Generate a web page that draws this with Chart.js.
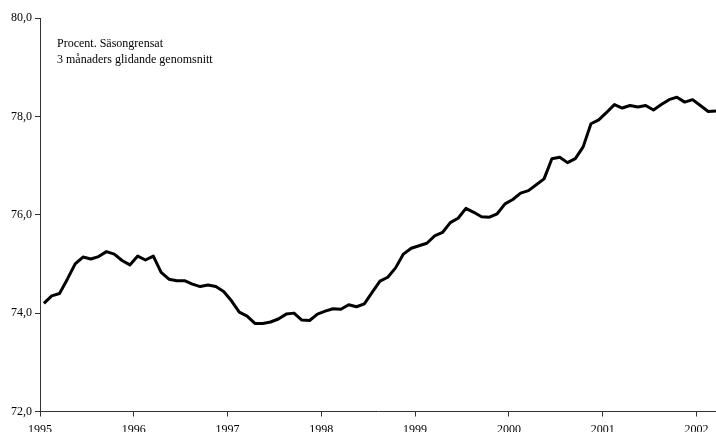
<!DOCTYPE html>
<html><head><meta charset="utf-8">
<script src="https://cdn.jsdelivr.net/npm/chart.js@4/dist/chart.umd.min.js"></script>
<style>html,body{margin:0;padding:0;background:#fff}#wrap{width:716px;height:432px;position:relative}</style>
</head><body><div id="wrap"><canvas id="c"></canvas></div>
<script>
const years = ['1995','1996','1997','1998','1999','2000','2001','2002'];
const monthNames = ['jan','feb','mar','apr','maj','jun','jul','aug','sep','okt','nov','dec'];
const values = [
 74.20,74.35,74.40,74.69,75.00,75.14,75.10,75.15,75.25,75.20,75.07,74.98,
 75.16,75.08,75.16,74.83,74.69,74.66,74.66,74.59,74.54,74.57,74.54,74.44,
 74.25,74.02,73.94,73.79,73.79,73.82,73.88,73.98,74.00,73.86,73.85,73.98,
 74.04,74.09,74.08,74.17,74.13,74.19,74.42,74.65,74.73,74.92,75.20,75.32,
 75.37,75.42,75.57,75.64,75.84,75.93,76.13,76.05,75.96,75.95,76.02,76.22,
 76.31,76.44,76.49,76.61,76.73,77.14,77.17,77.06,77.14,77.38,77.85,77.93,
 78.08,78.24,78.17,78.22,78.19,78.22,78.13,78.24,78.34,78.39,78.29,78.34,
 78.22,78.10,78.11
];
const yTicks = [72,74,76,78,80];
const noteLines = ['Procent. Säsongrensat','3 månaders glidande genomsnitt'];

const categories = [];
years.forEach(y => monthNames.forEach(m => categories.push(m + ' ' + y)));
const points = values.map((v,i) => ({x:i, y:v, label:categories[i]}));
const yearTickPos = years.map((y,k) => k*12 - 0.5);

const FONT = {family:"'Liberation Serif','Times New Roman',serif", size:12};

const notePlugin = {
  id:'note',
  afterDraw(chart){
    const ctx = chart.ctx;
    ctx.save();
    ctx.fillStyle = '#000';
    ctx.font = "12px 'Liberation Serif','Times New Roman',serif";
    ctx.textBaseline = 'alphabetic';
    ctx.textAlign = 'left';
    noteLines.forEach((t,i) => ctx.fillText(t, 57, 47 + i*16));
    ctx.restore();
  }
};

new Chart(document.getElementById('c'), {
  type:'line',
  data:{datasets:[{data:points, borderColor:'#000', borderWidth:3, pointRadius:0, tension:0, fill:false, clip:false, borderJoinStyle:'round'}]},
  options:{
    responsive:true, maintainAspectRatio:false, animation:false,
    layout:{padding:{top:18,left:0,right:0,bottom:0}},
    plugins:{legend:{display:false}, tooltip:{enabled:false}},
    scales:{
      x:{type:'linear', min:-0.5, max:86,
        afterBuildTicks(s){ s.ticks = yearTickPos.map(v=>({value:v})); },
        afterFit(s){ s.height = 20.5; },
        ticks:{autoSkip:false, maxRotation:0, color:'#000', font:FONT, padding:6,
          callback(v){ const k = yearTickPos.indexOf(v); return k>=0 ? years[k] : ''; }},
        grid:{drawOnChartArea:false, tickLength:5, color:'#333'},
        border:{display:true, color:'#333', width:1}
      },
      y:{min:72, max:80,
        afterBuildTicks(s){ s.ticks = yTicks.map(v=>({value:v})); },
        afterFit(s){ s.width = 40; },
        ticks:{color:'#000', font:FONT, padding:3, callback(v){ return v.toFixed(1).replace('.',','); }},
        grid:{drawOnChartArea:false, tickLength:5, color:'#333'},
        border:{display:true, color:'#333', width:1}
      }
    }
  },
  plugins:[notePlugin]
});
</script></body></html>
